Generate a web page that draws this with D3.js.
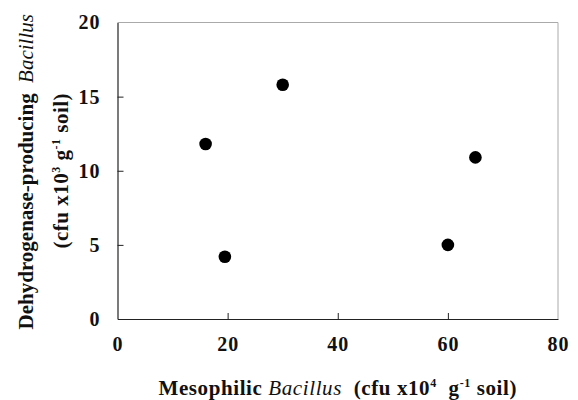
<!doctype html>
<html lang="en">
<head>
  <meta charset="utf-8">
  <title>Mesophilic vs dehydrogenase-producing Bacillus</title>
  <script src="https://d3js.org/d3.v7.min.js"></script>
  <style type="text/css">
    body { margin: 0; background: #fff; }
    text { font-family: 'Times New Roman', 'Liberation Serif', serif; fill: #111; white-space: pre; }
    .tick text { font-weight: bold; font-size: 20px; letter-spacing: 1px; }
  </style>
</head>
<body>
  <div id="chart"></div>
  <script type="text/javascript">

    // data
    var mesophilic = [16, 19.5, 30, 60, 65];        // x10^4 cfu/g soil
    var dehydrogenase = [11.8, 4.2, 15.8, 5.0, 10.9]; // x10^3 cfu/g soil
    var xTicks = [0, 20, 40, 60, 80];
    var yTicks = [0, 5, 10, 15, 20];

    var width = 578, height = 400;
    var margin = {top: 22.5, right: 20, bottom: 81, left: 117.5};
    var w = width - margin.left - margin.right,
        h = height - margin.top - margin.bottom;

    var svg = d3.select('#chart')
      .append('svg')
      .attr('width', width)
      .attr('height', height)
      .append('g')
      .attr('transform', 'translate(' + margin.left + ',' + margin.top + ')');

    var x = d3.scaleLinear().domain([0, 80]).range([0, w]);
    var y = d3.scaleLinear().domain([0, 20]).range([h, 0]);

    // grey top/right frame
    svg.append('path')
      .attr('d', 'M0,0H' + w + 'V' + h)
      .attr('fill', 'none')
      .attr('stroke', '#aaa')
      .attr('stroke-width', 1);

    var xAxis = svg.append('g')
      .attr('transform', 'translate(0,' + h + ')')
      .call(d3.axisBottom(x).tickValues(xTicks).tickSize(-6).tickPadding(18).tickSizeOuter(0));

    var yAxis = svg.append('g')
      .call(d3.axisLeft(y).tickValues(yTicks).tickSize(-6).tickPadding(17).tickSizeOuter(0));

    xAxis.selectAll('.tick line').filter(function(d) { return d === 0 || d === 80; }).remove();
    yAxis.selectAll('.tick line').filter(function(d) { return d === 0 || d === 20; }).remove();
    svg.selectAll('.domain').attr('stroke', '#222').attr('stroke-width', 1.2);
    svg.selectAll('.tick line').attr('stroke', '#222');
    svg.selectAll('.tick text').attr('fill', '#111');

    // points
    svg.selectAll('circle')
      .data(mesophilic)
      .enter()
      .append('circle')
      .attr('cx', function(d) { return x(d); })
      .attr('cy', function(d, i) { return y(dehydrogenase[i]); })
      .attr('r', 6.3)
      .attr('fill', '#000');

    // x axis title
    var xt = svg.append('text')
      .attr('x', w / 2)
      .attr('y', h + 76)
      .attr('text-anchor', 'middle')
      .style('font-size', '21px')
      .style('letter-spacing', '0.6px')
      .style('font-weight', 'bold');
    xt.append('tspan').text('Mesophilic ');
    xt.append('tspan').style('font-style', 'italic').style('font-weight', 'normal').text('Bacillus');
    xt.append('tspan').text('  (cfu x10');
    xt.append('tspan').attr('dy', -8).style('font-size', '12px').text('4');
    xt.append('tspan').attr('dy', 8).text('  g');
    xt.append('tspan').attr('dy', -8).style('font-size', '12px').text('-1');
    xt.append('tspan').attr('dy', 8).text(' soil)');

    // y axis title, two lines
    var yt1 = svg.append('text')
      .attr('transform', 'translate(' + (-85) + ',' + (h / 2 + 1) + ') rotate(-90)')
      .attr('text-anchor', 'middle')
      .style('font-size', '21px')
      .style('font-weight', 'bold');
    yt1.append('tspan').text('Dehydrogenase-producing  ');
    yt1.append('tspan').style('font-style', 'italic').style('font-weight', 'normal').text('Bacillus');

    var yt2 = svg.append('text')
      .attr('transform', 'translate(' + (-50) + ',' + (h / 2) + ') rotate(-90)')
      .attr('text-anchor', 'middle')
      .style('font-size', '21px')
      .style('letter-spacing', '0.5px')
      .style('font-weight', 'bold');
    yt2.append('tspan').text('(cfu x10');
    yt2.append('tspan').attr('dy', -8).style('font-size', '12px').text('3');
    yt2.append('tspan').attr('dy', 8).text(' g');
    yt2.append('tspan').attr('dy', -8).style('font-size', '12px').text('-1');
    yt2.append('tspan').attr('dy', 8).text(' soil)');

  </script>
</body>
</html>
